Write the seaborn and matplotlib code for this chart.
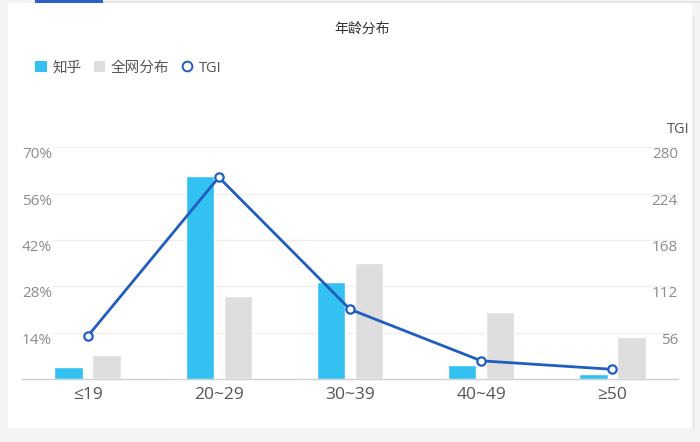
import numpy as np
import pandas as pd
import matplotlib
matplotlib.use("Agg")
import matplotlib.pyplot as plt
from matplotlib.patches import Rectangle, FancyBboxPatch
from matplotlib.lines import Line2D
import seaborn as sns

# data
ages = ["≤19", "20~29", "30~39", "40~49", "≥50"]
zhihu = [3.7, 61.5, 29.4, 4.3, 1.5]
allnet = [7.2, 25.2, 35.2, 20.4, 12.6]
tgi = [51.6, 244, 84.3, 22, 11.7]
series_names = ["知乎", "全网分布"]

left_ticks = [14, 28, 42, 56, 70]
right_ticks = [56, 112, 168, 224, 280]

BLUE = "#33c1f2"
GRAY = "#dedede"
LINE = "#1f5dbe"

sns.set_theme(style="white")
plt.rcParams["font.family"] = ["Open Sans", "DejaVu Sans", "Noto Sans CJK SC"]

df = pd.DataFrame({
    "age": ages * 2,
    "series": [series_names[0]] * len(ages) + [series_names[1]] * len(ages),
    "value": zhihu + allnet,
})

W, H = 700, 442
fig = plt.figure(figsize=(7, 4.42), dpi=100, facecolor="#f4f4f4")

# card background and tab line
fig.patches.append(Rectangle((8 / W, 1 - 428 / H), 684 / W, 425 / H,
                             transform=fig.transFigure, facecolor="white",
                             edgecolor="none", zorder=-10))
fig.patches.append(Rectangle((103 / W, 1 - 2.5 / H), 597 / W, 1.5 / H,
                             transform=fig.transFigure, facecolor="#e4e4e4",
                             edgecolor="none", zorder=-5))
fig.patches.append(Rectangle((35 / W, 1 - 3 / H), 68 / W, 3 / H,
                             transform=fig.transFigure, facecolor="#2a62c4",
                             edgecolor="none", zorder=-5))
fig.add_artist(Line2D([693 / W, 693 / W], [1 - 15 / H, 1 - 428 / H],
                      transform=fig.transFigure, color="#e8e8e8", lw=1))

ax = fig.add_axes([22 / W, (H - 379) / H, 656 / W, 231.5 / H])
ax.set_facecolor("none")

sns.barplot(data=df, x="age", y="value", hue="series", order=ages,
            hue_order=series_names, palette=[BLUE, GRAY], width=0.58,
            gap=0.25, saturation=1, legend=False, ax=ax, zorder=3)

ax.set_xlim(-0.5, len(ages) - 0.5)
ax.set_ylim(0, 70)
ax.set_yticks(left_ticks)
ax.set_yticklabels([f"{t}%" for t in left_ticks])
ax.set_xlabel("")
ax.set_ylabel("")
for t in left_ticks:
    ax.axhline(t, xmin=0.047, xmax=1, color="#efefef", lw=1, zorder=0)
ax.tick_params(axis="y", length=0, pad=0, labelsize=11, labelcolor="#8c8c8c")
ax.tick_params(axis="x", length=0, pad=6, labelsize=12.5, labelcolor="#555555")
plt.setp(ax.get_yticklabels(), ha="left", va="top")
for s in ["top", "right", "left"]:
    ax.spines[s].set_visible(False)
ax.spines["bottom"].set_color("#d0d0d0")
ax.spines["bottom"].set_linewidth(1)

ax2 = ax.twinx()
sns.lineplot(x=np.arange(len(ages)), y=tgi, ax=ax2, color=LINE, linewidth=2,
             marker="o", markersize=6, markerfacecolor="white",
             markeredgecolor=LINE, markeredgewidth=1.6, zorder=5)
ax2.set_ylim(0, 280)
ax2.set_yticks(right_ticks)
ax2.set_yticklabels([str(t) for t in right_ticks])
ax2.tick_params(axis="y", length=0, pad=0, labelsize=11, labelcolor="#8c8c8c")
plt.setp(ax2.get_yticklabels(), ha="right", va="top")
for s in ax2.spines.values():
    s.set_visible(False)
ax2.set_ylabel("TGI", rotation=0, fontsize=10.5, color="#555555", ha="center", va="center")
ax2.yaxis.set_label_coords(1.001, (379 - 130) / 231.5)

fig.text(362 / W, 1 - 29 / H, "年龄分布", ha="center", va="center",
         fontsize=10, color="#333333")

handles = [
    FancyBboxPatch((0, 0), 1, 1, boxstyle="round,pad=0.1", facecolor=BLUE, edgecolor="none"),
    FancyBboxPatch((0, 0), 1, 1, boxstyle="round,pad=0.1", facecolor=GRAY, edgecolor="none"),
    Line2D([], [], color=LINE, marker="o", linestyle="none", markersize=7,
           markerfacecolor="white", markeredgewidth=1.4),
]
fig.legend(handles, series_names + ["TGI"], loc="center left",
           bbox_to_anchor=(22 / W, 1 - 68 / H), ncol=3, frameon=False,
           handlelength=0.8, handleheight=0.8, handletextpad=0.4,
           columnspacing=0.8, fontsize=10.5, labelcolor="#555555")

fig.savefig("out.png", dpi=100, facecolor=fig.get_facecolor())
